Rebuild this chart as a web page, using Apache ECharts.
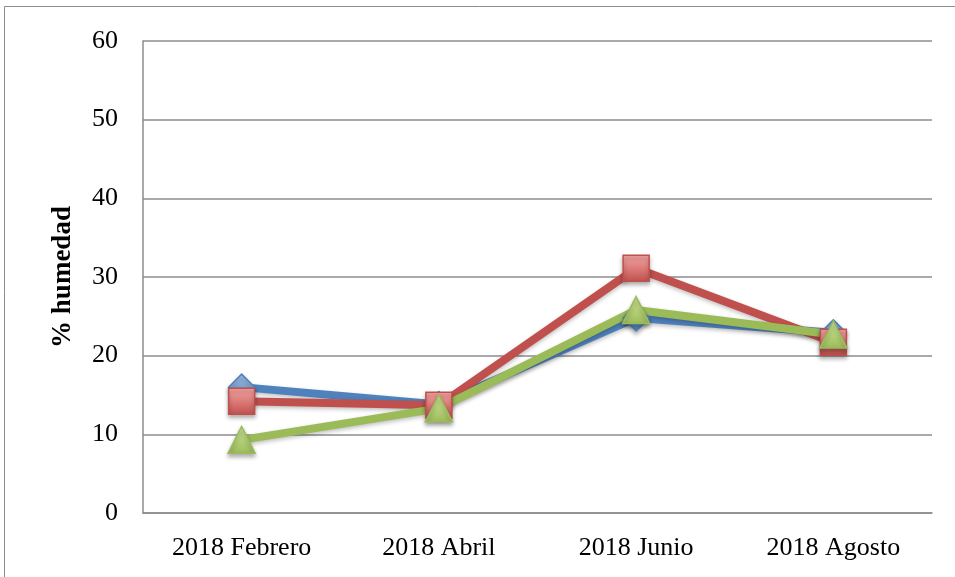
<!DOCTYPE html>
<html>
<head>
<meta charset="utf-8">
<script src="https://cdn.jsdelivr.net/npm/echarts@6/dist/echarts.min.js"></script>
<style>
html, body { margin: 0; padding: 0; background: #fff; }
#main { width: 955px; height: 577px; }
</style>
</head>
<body>
<div id="main"></div>
<script>
// data
const categories = ['2018 Febrero', '2018 Abril', '2018 Junio', '2018 Agosto'];
const serieA = [16.0, 13.8, 24.8, 22.9];
const serieB = [14.2, 13.7, 31.1, 21.7];
const serieC = [9.3, 13.3, 25.8, 22.7];
const yTicks = [0, 10, 20, 30, 40, 50, 60];

const font = '"Liberation Serif", "DejaVu Serif", serif';

function grad(light, dark) {
  return new echarts.graphic.LinearGradient(0, 0, 0, 1, [
    { offset: 0, color: light },
    { offset: 1, color: dark }
  ]);
}

function makeSeries(name, data, color, light, symbol, size) {
  return {
    name: name,
    type: 'line',
    data: data,
    symbol: symbol,
    symbolSize: size,
    showAllSymbol: true,
    lineStyle: { color: color, width: 8, shadowColor: 'rgba(0,0,0,0.25)', shadowBlur: 4, shadowOffsetY: 2 },
    itemStyle: { color: grad(light, color), borderColor: color, borderWidth: 1.5,
      shadowColor: 'rgba(0,0,0,0.3)', shadowBlur: 4, shadowOffsetY: 3 },
    emphasis: { disabled: true },
    animation: false
  };
}

let myChart = echarts.init(document.getElementById('main'));

let options = {
  backgroundColor: '#fff',
  animation: false,
  graphic: [
    { type: 'polyline', shape: { points: [[4.5, 577], [4.5, 6.5], [955, 6.5]] },
      style: { stroke: '#8c8c8c', lineWidth: 1, fill: null } }
  ],
  grid: { left: 143, right: 23, top: 41, bottom: 64 },
  xAxis: {
    type: 'category',
    data: categories,
    boundaryGap: true,
    axisLine: { lineStyle: { color: '#8c8c8c', width: 1.5 } },
    axisTick: { show: false },
    axisLabel: { color: '#000', fontFamily: font, fontSize: 26, margin: 22 }
  },
  yAxis: {
    type: 'value',
    min: yTicks[0],
    max: yTicks[yTicks.length - 1],
    interval: 10,
    name: '% humedad',
    nameLocation: 'middle',
    nameGap: 66,
    nameTextStyle: { color: '#000', fontFamily: font, fontSize: 27, fontWeight: 'bold' },
    axisLine: { show: true, lineStyle: { color: '#8c8c8c', width: 1.5 } },
    axisTick: { show: false },
    axisLabel: { color: '#000', fontFamily: font, fontSize: 26, margin: 25 },
    splitLine: { lineStyle: { color: '#8c8c8c', width: 1.5 } }
  },
  series: [
    makeSeries('A', serieA, '#4F81BD', '#a9c4ea', 'diamond', 26),
    makeSeries('B', serieB, '#C0504D', '#f7a6a4', 'rect', 26),
    makeSeries('C', serieC, '#9BBB59', '#d3ea9e', 'triangle', 27)
  ]
};

myChart.setOption(options);
</script>
</body>
</html>
